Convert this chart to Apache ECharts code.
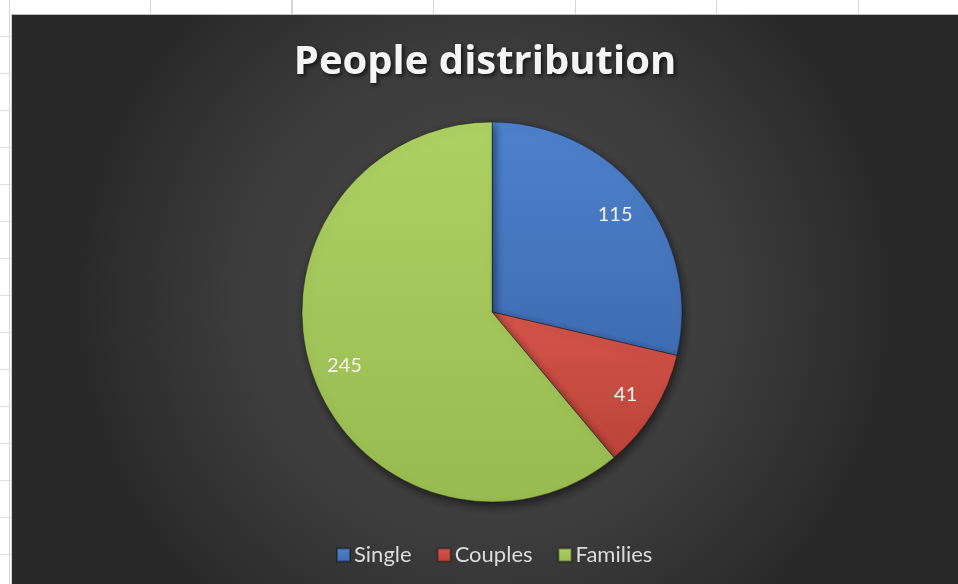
<!DOCTYPE html>
<html>
<head>
<meta charset="utf-8">
<script src="https://cdn.jsdelivr.net/npm/echarts@6/dist/echarts.min.js"></script>
<style>
html,body{margin:0;padding:0;background:#fff;width:958px;height:584px;overflow:hidden;}
#sheet{position:absolute;left:0;top:0;width:958px;height:584px;
 background:
  repeating-linear-gradient(to right, transparent 0, transparent 8.5px, #d6d6d6 8.5px, #d6d6d6 9.5px, transparent 9.5px, transparent 141.5px);
}
#sheetleft{position:absolute;left:0;top:0;width:11px;height:584px;
 background:
  repeating-linear-gradient(to bottom, transparent 0, transparent 36px, #dedede 36px, #dedede 37px, transparent 37px, transparent 36.5px);
}
#chart{position:absolute;left:11px;top:14px;width:947px;height:570px;border-top:1px solid #bdbdbd;border-left:1px solid #cfcfcf;box-sizing:border-box;}
</style>
</head>
<body>
<div id="sheet"></div>
<div id="sheetleft"></div>
<div id="chart"></div>
<script>
const titleText = 'People distribution';
const categories = ['Single', 'Couples', 'Families'];
const values = [115, 41, 245];
const colorsTop = ['#4d82cc', '#d4544a', '#aed163'];
const colorsBottom = ['#3f6cb2', '#bb4338', '#97bb50'];

const chart = echarts.init(document.getElementById('chart'));

const pieData = categories.map((c, i) => ({
  name: c,
  value: values[i],
  itemStyle: {
    color: {
      type: 'linear', x: 0, y: 0, x2: 0, y2: 1,
      colorStops: [{offset: 0, color: colorsTop[i]}, {offset: 1, color: colorsBottom[i]}]
    }
  }
}));
const labelData = categories.map((c, i) => ({ name: c, value: values[i] }));

chart.setOption({
  backgroundColor: {
    type: 'radial', x: 0.5, y: 0.5, r: 0.72,
    colorStops: [
      {offset: 0, color: '#4b4b4b'},
      {offset: 0.6, color: '#3c3c3c'},
      {offset: 1, color: '#292929'}
    ]
  },
  animation: false,
  color: colorsTop,
  title: {
    text: titleText,
    left: 'center',
    top: 23,
    textStyle: {
      fontFamily: 'Open Sans',
      fontWeight: 'bold',
      fontSize: 40,
      color: '#f4f4f4',
      textShadowColor: 'rgba(0,0,0,0.7)',
      textShadowBlur: 4,
      textShadowOffsetX: 2,
      textShadowOffsetY: 2
    }
  },
  legend: {
    data: categories,
    left: 319,
    top: 524,
    icon: 'rect',
    itemWidth: 13,
    itemHeight: 13,
    itemGap: 25,
    textStyle: { fontFamily: 'Lato', fontSize: 22, color: '#dcdcdc', padding: [0, 0, 0, -1] }
  },
  series: [
    {
      type: 'pie',
      center: [480, 297],
      radius: [0, 190],
      startAngle: 90,
      clockwise: true,
      label: { show: false },
      labelLine: { show: false },
      emphasis: { disabled: true },
      itemStyle: {
        borderColor: 'rgba(0,0,0,0.35)',
        borderWidth: 1,
        shadowBlur: 10,
        shadowColor: 'rgba(0,0,0,0.55)',
        shadowOffsetX: 2,
        shadowOffsetY: 4
      },
      data: pieData
    },
    {
      type: 'pie',
      center: [480, 297],
      radius: [118, 190],
      startAngle: 90,
      clockwise: true,
      silent: true,
      legendHoverLink: false,
      itemStyle: { color: 'rgba(0,0,0,0)', borderWidth: 0 },
      label: {
        show: true,
        position: 'inside',
        formatter: '{c}',
        fontFamily: 'Lato',
        fontSize: 20,
        color: '#f2f2f2'
      },
      labelLine: { show: false },
      emphasis: { disabled: true },
      data: labelData
    }
  ]
});
</script>
</body>
</html>
